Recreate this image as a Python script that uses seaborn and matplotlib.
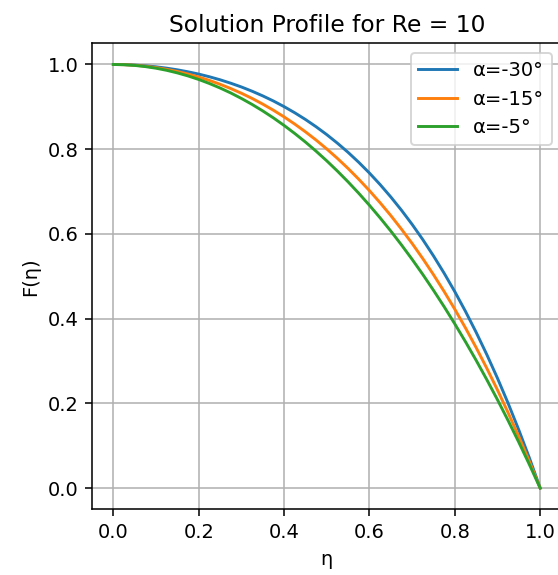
import matplotlib
matplotlib.use("Agg")
import matplotlib.pyplot as plt
import seaborn as sns
import pandas as pd

# Velocity profiles F(eta) across the channel half-width
eta = [0.000, 0.025, 0.050, 0.075, 0.100, 0.125, 0.150, 0.175, 0.200, 0.225,
       0.250, 0.275, 0.300, 0.325, 0.350, 0.375, 0.400, 0.425, 0.450, 0.475,
       0.500, 0.525, 0.550, 0.575, 0.600, 0.625, 0.650, 0.675, 0.700, 0.725,
       0.750, 0.775, 0.800, 0.825, 0.850, 0.875, 0.900, 0.925, 0.950, 0.975,
       1.000]

f_alpha_m30 = [1.0000, 0.9997, 0.9986, 0.9969, 0.9945, 0.9913, 0.9874, 0.9827,
               0.9773, 0.9710, 0.9639, 0.9558, 0.9469, 0.9369, 0.9259, 0.9138,
               0.9005, 0.8860, 0.8702, 0.8530, 0.8344, 0.8142, 0.7925, 0.7690,
               0.7437, 0.7165, 0.6873, 0.6560, 0.6225, 0.5866, 0.5482, 0.5073,
               0.4637, 0.4172, 0.3677, 0.3151, 0.2593, 0.2000, 0.1371, 0.0705,
               0.0000]
f_alpha_m15 = [1.0000, 0.9995, 0.9982, 0.9959, 0.9927, 0.9885, 0.9834, 0.9774,
               0.9704, 0.9624, 0.9533, 0.9432, 0.9321, 0.9199, 0.9065, 0.8920,
               0.8763, 0.8593, 0.8411, 0.8216, 0.8006, 0.7783, 0.7545, 0.7291,
               0.7022, 0.6736, 0.6434, 0.6113, 0.5775, 0.5417, 0.5039, 0.4641,
               0.4222, 0.3781, 0.3316, 0.2828, 0.2316, 0.1777, 0.1213, 0.0620,
               0.0000]
f_alpha_m5 = [1.0000, 0.9995, 0.9978, 0.9950, 0.9912, 0.9862, 0.9801, 0.9729,
              0.9646, 0.9551, 0.9445, 0.9328, 0.9198, 0.9057, 0.8904, 0.8739,
              0.8561, 0.8371, 0.8169, 0.7953, 0.7725, 0.7483, 0.7228, 0.6959,
              0.6676, 0.6379, 0.6068, 0.5741, 0.5400, 0.5043, 0.4670, 0.4282,
              0.3876, 0.3455, 0.3016, 0.2559, 0.2085, 0.1592, 0.1081, 0.0550,
              0.0000]

series_labels = ["α=-30°", "α=-15°", "α=-5°"]
series_values = [f_alpha_m30, f_alpha_m15, f_alpha_m5]
colors = ["#1f77b4", "#ff7f0e", "#2ca02c"]

df = pd.concat(
    [pd.DataFrame({"eta": eta, "F": vals, "case": lab})
     for lab, vals in zip(series_labels, series_values)],
    ignore_index=True,
)

plt.rcParams["font.family"] = ["DejaVu Sans"]

fig = plt.figure(figsize=(558 / 140, 575 / 140), dpi=140)
# the axes run slightly past the right edge of the canvas
ax = fig.add_axes([0.1649, 0.1143, 0.8414, 0.8104])

sns.lineplot(data=df, x="eta", y="F", hue="case", hue_order=series_labels,
             palette=colors, estimator=None, linewidth=1.5, ax=ax)

ax.set_xticks([0.0, 0.2, 0.4, 0.6, 0.8, 1.0])
ax.set_yticks([0.0, 0.2, 0.4, 0.6, 0.8, 1.0])
ax.set_xlim(-0.05, 1.05)
ax.set_ylim(-0.05, 1.05)
ax.grid(True, color="#b0b0b0", linewidth=0.8)
ax.set_axisbelow(True)
ax.spines["right"].set_visible(False)

ax.set_title("Solution Profile for Re = 10", fontsize=12)
ax.set_xlabel("η")
ax.set_ylabel("F(η)")

handles, labels = ax.get_legend_handles_labels()
ax.legend(handles, labels, loc="upper right", fontsize=10)

fig.savefig("out.png", dpi=140)
